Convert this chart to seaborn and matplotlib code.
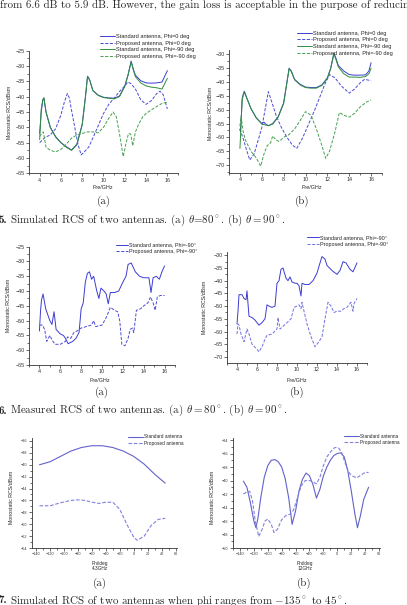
import matplotlib
matplotlib.use("Agg")
import matplotlib.pyplot as plt
import seaborn as sns
from matplotlib.ticker import MultipleLocator

W, H = 407, 605

# ---- Fig 5(a): simulated, theta = 80 deg ----
F5A_STD0_F = [4.0, 4.15, 4.3, 4.4, 4.6, 5.0, 5.5, 6.0, 6.5, 7.0, 7.5, 8.0, 8.3, 8.5, 8.7, 9.0,
              9.5, 10.0, 10.5, 11.0, 11.5, 12.0, 12.3, 12.6, 12.8, 13.0, 13.5, 14.0, 14.5,
              15.0, 15.5, 16.0]
F5A_STD0 = [-52.0, -45, -41, -40.5, -45, -50, -53, -55, -56.3, -57.4, -55.5, -49, -40, -33.3,
            -34.5, -38, -39.5, -40.2, -40.4, -40.5, -39.8, -36.5, -33, -28.4, -31, -33, -34.8,
            -35.5, -35.6, -35.5, -35.2, -31.5]
F5A_STD90 = [-54, -44, -41, -40.3, -45, -50, -53.2, -55, -56.5, -57.5, -55.7, -49.2, -40.3, -33.4,
             -34.6, -38, -39.6, -40.3, -40.5, -40.7, -40, -36.6, -33, -28.6, -31.3, -33.5, -35.5,
             -36.5, -36.9, -37.1, -37.5, -34]
F5A_PRO0_F = [4.0, 4.5, 5.0, 5.5, 6.0, 6.3, 6.6, 6.8, 7.0, 7.3, 7.6, 7.9, 8.2, 8.6, 9.0, 9.5,
              10.0, 10.5, 11.0, 11.5, 12.0, 12.3, 12.6, 13.0, 13.5, 14.0, 14.5, 15.0, 15.3,
              15.6, 16.0]
F5A_PRO0 = [-55, -53.3, -52.5, -50.5, -46, -42, -39, -40.5, -44.5, -50, -55.5, -59, -58, -56.5,
            -53.5, -49.5, -45.5, -42.5, -40.5, -38.3, -36.5, -35.2, -35.8, -37.5, -41, -42.5,
            -41.3, -39, -38.2, -39.3, -44]
F5A_PRO90_F = [4.0, 4.2, 4.35, 4.6, 5.0, 5.5, 6.0, 6.5, 7.0, 7.5, 8.0, 8.5, 9.0, 9.5, 10.0,
               10.5, 10.9, 11.2, 11.5, 11.85, 12.1, 12.35, 12.55, 12.75, 13.0, 13.3, 13.7,
               14.0, 14.5, 15.0, 15.5, 16.0]
F5A_PRO90 = [-53, -52, -51.5, -56.5, -57.5, -58, -57.2, -55.5, -53.5, -52.5, -52, -51.5, -51.5,
             -51.8, -50, -47, -45, -46.5, -52, -59.5, -55.5, -52, -52.2, -56, -51.5, -49, -46.5,
             -45.5, -44.3, -43.2, -42.2, -41.8]

# ---- Fig 5(b): simulated, theta = 90 deg ----
F5B_STD_F = [4.0, 4.05, 4.1, 4.2, 4.3, 4.4, 4.7, 5.0, 5.5, 6.0, 6.2, 6.3, 6.6, 7.0, 7.5, 8.0,
             8.3, 8.5, 8.7, 9.0, 9.5, 10.0, 10.5, 11.0, 11.5, 12.0, 12.3, 12.6, 12.8, 13.0,
             13.5, 14.0, 14.5, 15.0, 15.5, 15.8, 16.0]
F5B_STD0 = [-57, -58, -55, -46, -44.5, -43.3, -46.5, -49.5, -53, -55, -54.5, -55, -55.8, -55,
            -52.5, -47.5, -40, -35, -36, -39, -40.8, -41.8, -42, -42, -41, -38.5, -35, -29.5,
            -31.5, -34, -36, -37.3, -37.5, -37.5, -37.4, -36, -33]
F5B_STD90 = [-64, -60, -55, -47, -44.8, -43.7, -46.5, -49.5, -53, -55.2, -55.4, -55.5, -55.8,
             -55.2, -52.7, -47.8, -40.3, -35.2, -36.2, -39.2, -41, -42, -42.2, -42.2, -41.2,
             -38.7, -35.2, -29.8, -32, -34.5, -37, -38.2, -38.2, -38.3, -38, -37, -35]
F5B_PRO0_F = [4.0, 4.3, 4.6, 4.9, 5.3, 5.6, 6.0, 6.3, 6.6, 6.9, 7.3, 7.8, 8.3, 8.8, 9.2, 9.7,
              10.2, 10.8, 11.3, 11.8, 12.2, 12.7, 13.3, 14.0, 14.5, 15.0, 15.4, 16.0]
F5B_PRO0 = [-57, -60.5, -64.5, -68.2, -66, -62, -56.5, -50, -43.5, -47, -52, -56.5, -60, -62.8,
            -64, -60.5, -56, -50.5, -45.5, -40.5, -37.3, -38.5, -41.5, -44, -42.5, -40.3, -39,
            -39.5]
F5B_PRO90_F = [4.0, 4.1, 4.3, 4.5, 5.0, 5.5, 5.9, 6.2, 6.5, 6.8, 7.0, 7.3, 7.6, 8.0, 8.5, 9.0,
               9.5, 10.0, 10.5, 11.0, 11.5, 11.85, 12.2, 12.7, 13.1, 13.5, 14.0, 14.5, 15.0,
               15.6, 16.0]
F5B_PRO90 = [-56, -52.5, -58, -61, -65, -67.5, -70.4, -66, -63, -62, -59.5, -61, -61.5, -60,
             -59, -57, -54, -50.7, -52, -57, -63, -67.6, -65, -58, -51, -52, -52.7, -51.3, -49,
             -47.2, -46.5]

# ---- Fig 6(a): measured, theta = 80 deg ----
F6A_STD_F = [4.0, 4.1, 4.2, 4.35, 4.6, 5.0, 5.2, 5.4, 5.6, 6.0, 6.3, 6.5, 6.75, 7.2, 7.5, 7.8,
             8.0, 8.2, 8.4, 8.6, 8.8, 9.0, 9.2, 9.5, 9.7, 9.9, 10.2, 10.4, 10.6, 10.8, 11.2,
             11.6, 12.0, 12.3, 12.5, 12.8, 13.2, 13.6, 14.0, 14.5, 14.7, 14.9, 15.2, 15.5,
             15.8, 16.0]
F6A_STD = [-53.5, -47, -43, -41, -46, -50, -51.3, -47, -53, -54.5, -55, -56, -57.8, -57, -56,
           -54, -46, -44, -37, -34, -33.5, -36, -35, -40, -42.5, -39, -40, -41, -44.3, -40.5,
           -40.5, -40, -37, -35, -31, -30.5, -33.5, -35, -35.5, -35.5, -40.5, -35.5, -35, -36,
           -33, -31.5]
F6A_PRO_F = [4.0, 4.3, 4.5, 4.7, 5.0, 5.2, 5.5, 6.0, 6.5, 6.7, 7.0, 7.3, 7.6, 8.0, 8.5, 9.0,
             9.2, 9.4, 10.0, 10.4, 10.8, 11.2, 11.5, 11.7, 11.9, 12.2, 12.5, 12.7, 12.9, 13.05,
             13.3, 13.7, 14.0, 14.4, 14.65, 14.9, 15.1, 15.3, 15.6, 16.0]
F6A_PRO = [-51.5, -51.5, -53, -57, -55, -56.5, -58, -58, -57, -55.5, -56, -54, -53.5, -52.5,
           -52, -51.5, -50, -52, -51.5, -49, -45.5, -46.5, -47, -50, -58, -58.5, -56, -53,
           -52.5, -54, -46.5, -46, -45, -44, -42, -44, -46.5, -42, -41.5, -41.5]

# ---- Fig 6(b): measured, theta = 90 deg ----
F6B_STD_F = [4.0, 4.1, 4.2, 4.5, 4.7, 4.9, 5.0, 5.2, 5.5, 5.8, 6.0, 6.2, 6.5, 6.8, 7.0, 7.2,
             7.5, 7.8, 8.0, 8.2, 8.4, 8.6, 8.9, 9.1, 9.3, 9.5, 9.8, 10.0, 10.2, 10.4, 10.5,
             10.8, 11.2, 11.6, 12.0, 12.3, 12.5, 12.8, 13.0, 13.5, 14.0, 14.3, 14.6, 14.9,
             15.3, 15.6, 16.0]
F6B_STD = [-57, -52, -45.5, -45.5, -47, -47.5, -44, -54, -54.5, -55.5, -56.5, -57.5, -56.5, -55,
           -49.5, -50, -50.5, -50, -41, -40, -35.5, -35, -39, -40, -38.5, -40.5, -41, -41, -42,
           -46, -41, -41.5, -41.5, -40, -37, -33, -30.5, -31.5, -34, -36, -37.5, -36, -32.5,
           -33, -35.5, -36.5, -33]
F6B_PRO_F = [4.0, 4.1, 4.2, 4.4, 4.7, 5.0, 5.2, 5.5, 6.0, 6.2, 6.5, 6.8, 7.0, 7.5, 8.0, 8.1,
             8.3, 8.6, 9.0, 9.4, 9.7, 10.0, 10.2, 10.4, 10.5, 10.7, 11.0, 11.4, 11.8, 12.2,
             12.5, 12.8, 13.1, 13.4, 13.7, 14.0, 14.4, 14.7, 15.0, 15.4, 15.6, 15.7, 16.0]
F6B_PRO = [-61, -57, -57.5, -61, -64, -59, -61, -65, -67, -68, -66, -63, -61.5, -61, -59, -54.5,
           -59, -58, -56.5, -55, -50.5, -50, -49.5, -51, -48.5, -52, -57, -62, -66, -64, -62,
           -55, -48.5, -50, -52.5, -52, -52, -51, -50.5, -48.5, -52, -49, -47]

# ---- Fig 7(a): phi sweep at 4.3 GHz ----
F7A_STD_PHI = [-135, -120, -105, -90, -75, -60, -45, -30, -15, 0, 15, 30, 45]
F7A_STD = [-40.0, -39.5, -38.6, -37.7, -37.1, -36.8, -36.8, -37.1, -37.7, -38.6, -39.9, -41.6,
           -43.1]
F7A_PRO_PHI = [-135, -120, -105, -90, -80, -70, -60, -50, -40, -30, -20, -10, 0, 5, 15, 25, 35,
               45]
F7A_PRO = [-46.9, -46.9, -46.4, -46.0, -45.9, -46.0, -46.3, -46.5, -46.3, -46.3, -47.5, -50.0,
           -52.2, -52.7, -52.0, -50.2, -49.2, -49.0]

# ---- Fig 7(b): phi sweep at 12 GHz ----
F7B_STD_PHI = [-135, -130, -125, -120, -117, -114, -110, -105, -100, -95, -90, -85, -80, -75,
               -70, -65, -60, -55, -50, -45, -40, -35, -30, -25, -20, -15, -10, -5, 0, 5, 10,
               15, 20, 25, 29, 33, 38, 45]
F7B_STD = [-40.1, -41.0, -43.3, -46.0, -47.0, -45.5, -42.5, -39.5, -37.8, -37.0, -36.9, -37.2,
           -38.0, -39.7, -42.5, -46.5, -44.5, -41.5, -39.8, -38.9, -39.3, -40.6, -42.6, -41.3,
           -39.3, -38.0, -37.0, -36.3, -36.0, -35.9, -36.5, -38.5, -41.5, -44.8, -47.0, -45.3,
           -42.8, -41.0]
F7B_PRO_PHI = [-135, -130, -126, -122, -118, -113, -108, -104, -100, -95, -91, -86, -80, -74,
               -68, -63, -58, -52, -46, -40, -35, -30, -25, -20, -15, -10, -5, -2, 2, 6, 10,
               14, 18, 23, 28, 34, 40, 45]
F7B_PRO = [-42.0, -41.7, -41.6, -43.0, -46.0, -48.3, -47.2, -46.0, -45.7, -46.5, -47.7, -47.2,
           -45.8, -45.2, -45.0, -44.4, -42.8, -40.8, -40.0, -40.0, -40.2, -40.5, -39.5, -37.8,
           -36.5, -35.8, -35.2, -35.1, -35.2, -35.8, -37.0, -38.2, -39.0, -39.4, -39.6, -39.2,
           -38.8, -38.8]

PANEL_TAGS = ["(a)", "(b)", "(a)", "(b)", "(a)", "(b)"]

BLUE = "#3c3cd2"
BLUE_D = "#4a4ad8"
GREEN = "#2f8f3a"
GREEN_D = "#45a050"
BLUE7 = "#6262cc"
BLUE7_D = "#8080dd"

sns.set_theme(style="ticks")
plt.rcParams.update({
    "font.family": ["Liberation Sans", "DejaVu Sans"],
    "mathtext.fontset": "cm",
    "axes.linewidth": 0.6,
    "axes.edgecolor": "#333333",
    "xtick.color": "#333333",
    "ytick.color": "#333333",
})

fig = plt.figure(figsize=(W / 100, H / 100), dpi=100)
fig.patch.set_facecolor("white")


def frame(x0, y0, x1, y1):
    """Axes from pixel box (top-left origin)."""
    return fig.add_axes([x0 / W, 1 - y1 / H, (x1 - x0) / W, (y1 - y0) / H])


def style(ax, xlim, ylim, xstep, ystep, size):
    ax.set_xlim(*xlim)
    ax.set_ylim(*ylim)
    ax.xaxis.set_major_locator(MultipleLocator(xstep))
    ax.xaxis.set_minor_locator(MultipleLocator(xstep / 2))
    ax.yaxis.set_major_locator(MultipleLocator(ystep))
    ax.yaxis.set_minor_locator(MultipleLocator(ystep / 2))
    ax.set_facecolor("none")
    sns.despine(ax=ax)
    ax.tick_params(which="both", direction="out", labelsize=size, width=0.5, pad=1.2)
    ax.tick_params(which="major", length=2)
    ax.tick_params(which="minor", length=1.1)
    ax.set_xlabel("")
    ax.set_ylabel("")


def curve(ax, x, y, color, dashed, label, lw=0.7):
    ls = (0, (3.2, 1.6)) if dashed else "-"
    sns.lineplot(x=x, y=y, ax=ax, color=color, linewidth=lw, linestyle=ls, label=label,
                 sort=False)


def legend(ax, x, y, size, hl=2.6):
    ax.legend(loc="upper left", bbox_to_anchor=(x / W, 1 - y / H), bbox_transform=fig.transFigure,
              frameon=False, fontsize=size, handlelength=hl, handletextpad=0.25,
              labelspacing=0.3, borderpad=0, borderaxespad=0)


def ptext(x, y, s, **kw):
    kw.setdefault("ha", "center")
    kw.setdefault("va", "center")
    fig.text(x / W, 1 - y / H, s, **kw)


# ---- Fig 5 ----
ax = frame(29, 50.7, 178, 173.3)
curve(ax, F5A_STD0_F, F5A_STD0, BLUE, False, "Standard antenna, Phi=0 deg")
curve(ax, F5A_PRO0_F, F5A_PRO0, BLUE_D, True, "Proposed antenna, Phi=0 deg")
curve(ax, F5A_STD0_F, F5A_STD90, GREEN, False, "Standard antenna, Phi=-90 deg")
curve(ax, F5A_PRO90_F, F5A_PRO90, GREEN_D, True, "Proposed antenna, Phi=-90 deg")
style(ax, (3, 17), (-65, -25), 2, 5, 3.9)
legend(ax, 100, 34, 4.1)

ax = frame(229, 50, 382, 172.7)
curve(ax, F5B_STD_F, F5B_STD0, BLUE, False, "Standard antenna, Phi=0 deg")
curve(ax, F5B_PRO0_F, F5B_PRO0, BLUE_D, True, "Proposed antenna, Phi=0 deg")
curve(ax, F5B_STD_F, F5B_STD90, GREEN, False, "Standard antenna, Phi=-90 deg")
curve(ax, F5B_PRO90_F, F5B_PRO90, GREEN_D, True, "Proposed antenna, Phi=-90 deg")
style(ax, (3, 17), (-72.8, -28.4), 2, 5, 3.9)
legend(ax, 297, 30.5, 4.1)

# ---- Fig 6 ----
ax = frame(29, 246.7, 175, 365)
curve(ax, F6A_STD_F, F6A_STD, BLUE, False, "Standard antenna, Phi=-90°")
curve(ax, F6A_PRO_F, F6A_PRO, BLUE_D, True, "Proposed antenna, Phi=-90°")
style(ax, (3, 17), (-65, -25), 2, 5, 3.9)
legend(ax, 116, 242.5, 3.9, hl=2.2)

ax = frame(227, 252, 367, 363)
curve(ax, F6B_STD_F, F6B_STD, BLUE, False, "Standard antenna, Phi=-90°")
curve(ax, F6B_PRO_F, F6B_PRO, "#7070e0", True, "Proposed antenna, Phi=-90°")
style(ax, (3, 17), (-72.4, -28.7), 2, 5, 3.9)
legend(ax, 307, 235, 3.9, hl=2.2)

# ---- Fig 7 ----
ax = frame(32, 438, 177, 548)
curve(ax, F7A_STD_PHI, F7A_STD, BLUE7, False, "Standard antenna", lw=0.8)
curve(ax, F7A_PRO_PHI, F7A_PRO, BLUE7_D, True, "Proposed antenna", lw=0.8)
style(ax, (-145.7, 61.9), (-54, -35.5), 20, 2, 2.7)
legend(ax, 128, 434.5, 3.4, hl=3.2)

ax = frame(233, 438, 380, 548)
curve(ax, F7B_STD_PHI, F7B_STD, BLUE7, False, "Standard antenna", lw=0.8)
curve(ax, F7B_PRO_PHI, F7B_PRO, BLUE7_D, True, "Proposed antenna", lw=0.8)
style(ax, (-150, 61.4), (-50, -33.7), 20, 2, 2.7)
legend(ax, 344, 433.5, 3.4, hl=3.2)

# ---- axis titles ----
for x, y in [(103, 188), (312, 188), (100, 380), (297, 380)]:
    ptext(x, y, "Fre/GHz", fontsize=3.9)
for x, y in [(10, 112), (210, 113), (9, 305), (205, 307), (12, 497), (212, 497)]:
    ptext(x, y, "Monostatic RCS/dBsm", fontsize=3.8, rotation=90)
ptext(100, 565.5, "Phi/deg\n4.3GHz", fontsize=3.4, linespacing=1.0)
ptext(305, 565.5, "Phi/deg\n12GHz", fontsize=3.4, linespacing=1.0)

# ---- page text in serif ----
serif = dict(fontfamily="cmr10", fontsize=7.9)
ptext(0, 5, "from 6.6 dB to 5.9 dB. However, the gain loss is acceptable in the purpose of reducing",
      ha="left", **serif)
tag_pos = [(104, 201), (302, 201), (102, 392), (297, 392), (100, 583), (304, 583)]
for (x, y), s in zip(tag_pos, PANEL_TAGS):
    ptext(x, y, s, **serif)

caps = [(220, "5.", r"Simulated RCS of two antennas. (a) $\theta$=$80^\circ$. (b) $\theta = 90^\circ$."),
        (410.5, "6.", r"Measured RCS of two antennas. (a) $\theta = 80^\circ$. (b) $\theta = 90^\circ$."),
        (600, "7.", r"Simulated RCS of two antennas when phi ranges from $-135^\circ$ to $45^\circ$.")]
for y, num, s in caps:
    ptext(-1.5, y, num, ha="left", fontfamily="cmb10", fontsize=7.9)
    ptext(10.5, y, s, ha="left", **serif)

fig.savefig("out.png", dpi=100, facecolor="white")
